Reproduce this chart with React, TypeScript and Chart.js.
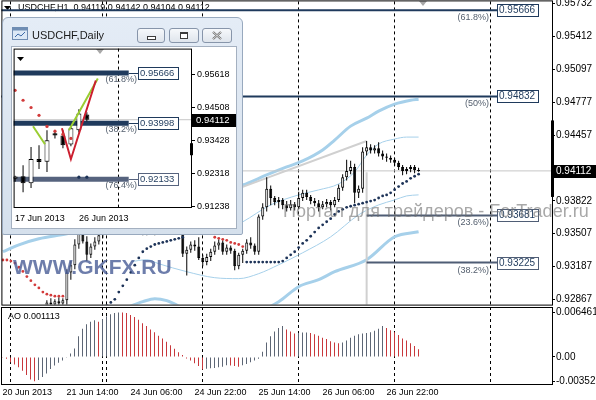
import React, { useEffect, useRef } from "react";
import { Chart, registerables } from "chart.js";

Chart.register(...registerables);

const FONT = "'Liberation Sans', Arial, sans-serif";

const symbolH1 = "USDCHF,H1";
const symbolDaily = "USDCHF,Daily";

// ---------- H1 candles (index 0 = 20 Jun 22:00) ----------
const barOpen = [
  0.9276, 0.9273, 0.927, 0.9268, 0.9272, 0.927, 0.9265, 0.9268, 0.9274, 0.9276,
  0.9273, 0.9277, 0.9284, 0.9282, 0.9285, 0.9283, 0.9286, 0.9313, 0.932, 0.934,
  0.9354, 0.9343, 0.933, 0.9338, 0.9343, 0.9349, 0.9358, 0.9366, 0.9372, 0.9368,
  0.9375, 0.9371, 0.9364, 0.9369, 0.9362, 0.9357, 0.9352, 0.9355, 0.9351, 0.9356,
  0.9352, 0.9355, 0.9353, 0.9357, 0.9352, 0.9354, 0.9331, 0.9335, 0.934, 0.9338,
  0.9327, 0.9323, 0.9328, 0.9333, 0.9339, 0.9342, 0.9333, 0.9337, 0.9334, 0.9319,
  0.933, 0.9334, 0.9342, 0.9339, 0.9333, 0.9367, 0.9376, 0.9394, 0.9385, 0.9381,
  0.9383, 0.9378, 0.9375, 0.9379, 0.9376, 0.9385, 0.939, 0.9386, 0.9382, 0.938,
  0.9376, 0.9379, 0.9381, 0.9378, 0.9383, 0.9395, 0.9405, 0.9411, 0.9415, 0.939,
  0.9394, 0.943, 0.9434, 0.9431, 0.9433, 0.9428, 0.9425, 0.9424, 0.9422, 0.9419,
  0.9415, 0.9411, 0.9413, 0.9415, 0.94119,
];
const barHigh = [
  0.928, 0.9278, 0.9275, 0.9276, 0.9279, 0.9274, 0.9271, 0.9277, 0.928, 0.9281,
  0.9279, 0.9286, 0.9288, 0.9287, 0.9289, 0.9288, 0.9316, 0.9324, 0.9345, 0.936,
  0.9372, 0.9348, 0.9341, 0.9347, 0.9354, 0.9362, 0.9371, 0.9379, 0.938, 0.9382,
  0.9381, 0.9374, 0.9373, 0.9372, 0.9366, 0.9361, 0.9358, 0.9359, 0.9357, 0.936,
  0.9357, 0.9361, 0.9358, 0.9362, 0.9356, 0.9357, 0.9338, 0.9343, 0.9344, 0.9347,
  0.933, 0.9331, 0.9336, 0.9343, 0.9345, 0.9344, 0.934, 0.9339, 0.9336, 0.9332,
  0.9336, 0.9345, 0.9347, 0.9341, 0.9369, 0.938, 0.9405, 0.9397, 0.9387, 0.9386,
  0.9385, 0.9382, 0.9383, 0.9381, 0.9391, 0.9393, 0.9393, 0.9388, 0.9385, 0.9383,
  0.9382, 0.9384, 0.9383, 0.9386, 0.9398, 0.9408, 0.9422, 0.9421, 0.9418, 0.9397,
  0.9434, 0.944, 0.9437, 0.9436, 0.9439, 0.9431, 0.9428, 0.9426, 0.9424, 0.9421,
  0.9417, 0.9415, 0.9417, 0.9417, 0.94142,
];
const barLow = [
  0.927, 0.9266, 0.9262, 0.9263, 0.9267, 0.9261, 0.9259, 0.9264, 0.9269, 0.927,
  0.9268, 0.9275, 0.9279, 0.9278, 0.928, 0.9279, 0.9281, 0.9306, 0.9316, 0.9336,
  0.9341, 0.9324, 0.9327, 0.9335, 0.934, 0.9346, 0.9354, 0.9362, 0.9363, 0.9365,
  0.9366, 0.936, 0.9359, 0.9357, 0.9352, 0.9349, 0.9349, 0.935, 0.9349, 0.935,
  0.935, 0.9351, 0.935, 0.9351, 0.935, 0.9328, 0.931, 0.9332, 0.9334, 0.9325,
  0.9319, 0.932, 0.9324, 0.933, 0.9335, 0.933, 0.933, 0.9331, 0.9315, 0.9316,
  0.9322, 0.9331, 0.9336, 0.933, 0.933, 0.9364, 0.9372, 0.9378, 0.9378, 0.9375,
  0.9374, 0.9372, 0.9373, 0.9373, 0.9374, 0.9382, 0.9383, 0.9379, 0.9377, 0.9372,
  0.9374, 0.9376, 0.9373, 0.9376, 0.9381, 0.9392, 0.9402, 0.9408, 0.938, 0.9385,
  0.939, 0.9426, 0.9428, 0.9428, 0.9425, 0.9422, 0.942, 0.9419, 0.9416, 0.9412,
  0.9407, 0.9408, 0.941, 0.9409, 0.94104,
];
const barClose = [
  0.9273, 0.927, 0.9268, 0.9272, 0.927, 0.9265, 0.9268, 0.9274, 0.9276, 0.9273,
  0.9277, 0.9284, 0.9282, 0.9285, 0.9283, 0.9286, 0.9313, 0.932, 0.934, 0.9354,
  0.9343, 0.933, 0.9338, 0.9343, 0.9349, 0.9358, 0.9366, 0.9372, 0.9368, 0.9375,
  0.9371, 0.9364, 0.9369, 0.9362, 0.9357, 0.9352, 0.9355, 0.9351, 0.9356, 0.9352,
  0.9355, 0.9353, 0.9357, 0.9352, 0.9354, 0.9331, 0.9335, 0.934, 0.9338, 0.9327,
  0.9323, 0.9328, 0.9333, 0.9339, 0.9342, 0.9333, 0.9337, 0.9334, 0.9319, 0.933,
  0.9334, 0.9342, 0.9339, 0.9333, 0.9367, 0.9376, 0.9394, 0.9385, 0.9381, 0.9383,
  0.9378, 0.9375, 0.9379, 0.9376, 0.9385, 0.939, 0.9386, 0.9382, 0.938, 0.9376,
  0.9379, 0.9381, 0.9378, 0.9383, 0.9395, 0.9405, 0.9411, 0.9415, 0.939, 0.9394,
  0.943, 0.9434, 0.9431, 0.9433, 0.9428, 0.9425, 0.9424, 0.9422, 0.9419, 0.9415,
  0.9411, 0.9413, 0.9415, 0.9412, 0.94112,
];
// Parabolic SAR (H1)
const sarH1 = [
  0.9325, 0.9325, 0.9324, 0.9322, 0.9318, 0.9314, 0.9309, 0.9305, 0.9301, 0.9298,
  0.9294, 0.9292, 0.9291, 0.929, 0.929, 0.929, 0.9259, 0.926, 0.9262, 0.9265,
  0.9268, 0.9271, 0.9273, 0.9275, 0.9277, 0.9279, 0.9281, 0.9284, 0.9287, 0.9294,
  0.93, 0.9306, 0.9313, 0.932, 0.9327, 0.9333, 0.9336, 0.9338, 0.934, 0.9341,
  0.9342, 0.9343, 0.9344, 0.9345, 0.9346, 0.9347, 0.9382, 0.9379, 0.9375, 0.937,
  0.9364, 0.9358, 0.9352, 0.9347, 0.9346, 0.9345, 0.9344, 0.9342, 0.9341, 0.934,
  0.9338, 0.9323, 0.9323, 0.9323, 0.9323, 0.9323, 0.9323, 0.9323, 0.9323, 0.9323,
  0.9324, 0.9327, 0.933, 0.9333, 0.9337, 0.9341, 0.9344, 0.9348, 0.9352, 0.9356,
  0.9359, 0.9362, 0.9365, 0.9369, 0.9372, 0.9374, 0.9376, 0.9377, 0.9378, 0.9379,
  0.938, 0.9381, 0.9382, 0.9383, 0.9385, 0.9387, 0.9388, 0.939, 0.9393, 0.9396,
  0.9399, 0.9401, 0.9404, 0.9406, 0.9408,
];
// Awesome Oscillator
const aoValues = [
  -0.0001, -0.00025, -0.00075, -0.0011, -0.0015, -0.002, -0.0026, -0.00325, -0.003529, -0.00334,
  -0.0029, -0.0024, -0.00175, -0.00125, -0.00085, -0.0005, -0.0001, 0.0005, 0.00125, 0.003,
  0.0041, 0.00474, 0.0051, 0.00534, 0.0051, 0.0055, 0.0059, 0.0062, 0.0064, 0.006461,
  0.00645, 0.0064, 0.0061, 0.0058, 0.0054, 0.0049, 0.0045, 0.004, 0.0036, 0.0031,
  0.0027, 0.0022, 0.0017, 0.0012, 0.0007, 0.0003, -0.0002, -0.0005, -0.0009, -0.0013,
  -0.0018, -0.0017, -0.00165, -0.0016, -0.0015, -0.0014, -0.0012, -0.00125, -0.0013, -0.0014,
  -0.0012, -0.001, -0.00075, -0.0005, -0.00025, 0.00075, 0.0021, 0.003, 0.0037, 0.0042,
  0.0045, 0.004, 0.0037, 0.0034, 0.0035, 0.00355, 0.00356, 0.0035, 0.0033, 0.0031,
  0.0028, 0.0026, 0.0023, 0.0021, 0.002, 0.0021, 0.0024, 0.0028, 0.0031, 0.0033,
  0.0034, 0.0035, 0.0036, 0.0038, 0.0041, 0.0045, 0.0042, 0.0039, 0.0036, 0.0032,
  0.0027, 0.0024, 0.002, 0.0016, 0.001113,
];

// envelope / band lines (bar index, price)
const bandUpThickIdx = [0, 4, 9, 16, 25, 35, 45, 52, 60, 66, 71, 75, 80, 83, 87, 91, 94, 98, 102, 104];
const bandUpThickVal = [0.9333, 0.93397, 0.93455, 0.93503, 0.9359, 0.93716, 0.93831, 0.93899, 0.93976, 0.94073, 0.9415, 0.94208, 0.94314, 0.9441, 0.94545, 0.94622, 0.9469, 0.94758, 0.94796, 0.94806];
const bandUpThinIdx = [55, 60, 67, 74, 79, 84, 88, 91, 94, 98, 101, 104];
const bandUpThinVal = [0.93523, 0.93619, 0.93783, 0.9388, 0.93928, 0.93986, 0.94102, 0.94265, 0.94372, 0.9442, 0.94439, 0.94439];
const bandLoThinIdx = [32, 36, 39, 46, 53, 59, 64, 69, 75, 82, 89, 94, 98, 101, 104];
const bandLoThinVal = [0.93233, 0.93253, 0.93214, 0.93137, 0.93079, 0.9307, 0.93118, 0.93204, 0.9332, 0.93474, 0.93687, 0.93783, 0.93831, 0.9387, 0.9388];
const bandLoThickIdx = [24, 31, 35, 38, 41, 47, 57, 64, 69, 74, 79, 83, 91, 98, 104];
const bandLoThickVal = [0.92674, 0.9279, 0.92847, 0.92876, 0.92857, 0.92751, 0.92693, 0.92751, 0.92847, 0.92992, 0.9306, 0.93137, 0.93253, 0.93475, 0.93523];

// Fibonacci tool
const fibLevels = [0.95666, 0.94832, 0.93681, 0.93225];
const fibNames = ["(61.8%)", "(50%)", "(23.6%)", "(38.2%)"];
const fibFromIdx = [-2, -2, 91, 91];
const fibToIdx = 123.625;
const fibTrendIdx = [60, 91];
const fibTrendVal = [0.93957, 0.94401];
const fibVertIdx = [91, 91];
const fibVertVal = [0.941, 0.927];

const priceTicks = [0.95732, 0.95412, 0.95097, 0.94777, 0.94457, 0.93822, 0.93507, 0.93187, 0.92867];
const dayRange = [0.9386, 0.946];
const separatorIdx = [2, 25, 26, 50, 74, 98, 122];
const dateIdx = [0, 16, 32, 48, 64, 80, 96];
const dateLabels = ["20 Jun 2013", "21 Jun 14:00", "24 Jun 06:00", "24 Jun 22:00", "25 Jun 14:00", "26 Jun 06:00", "26 Jun 22:00"];
const aoTicks = [0.006461, 0, -0.003529];
const aoTickLabels = ["0.006461", "0.00", "-0.003529"];

// ---------- Daily inset (index 0 = 17 Jun) ----------
const dOpen = [0.9215, 0.9223, 0.92, 0.928, 0.9271, 0.9366, 0.9359, 0.9329, 0.9376, 0.9429];
const dHigh = [0.9225, 0.926, 0.932, 0.9326, 0.9376, 0.9376, 0.9376, 0.9393, 0.9446, 0.9436];
const dLow = [0.9205, 0.917, 0.9184, 0.9247, 0.9237, 0.9349, 0.9316, 0.9323, 0.9369, 0.9406];
const dClose = [0.9222, 0.92, 0.928, 0.927, 0.9343, 0.9359, 0.9326, 0.9383, 0.9432, 0.94112];
const dSar = [0.9509, 0.9476, 0.9452, 0.9426, 0.9389, 0.9373, 0.9363, 0.9349, 0.922, 0.922];
const dTicks = [0.95618, 0.94508, 0.93428, 0.92318, 0.91238];
const dDateIdx = [0, 8];
const dDateLabels = ["17 Jun 2013", "26 Jun 2013"];
const dFibLevels = [0.95666, 0.93998, 0.92133];
const dFibNames = ["(61.8%)", "(38.2%)", "(76.4%)"];
const dFibToIdx = 14.25;
const zigRedX = [5.875, 7, 10.125];
const zigRedY = [0.93826, 0.92798, 0.95419];
const zigGreenX = [2.25, 3.75, 5, 6.75, 10.375];
const zigGreenY = [0.93893, 0.93295, null, 0.9376, 0.95485];
const dRange = [0.9293, 0.9333];
const dSeparatorIdx = 13;

// ---------- styles ----------
const NAVY = "#1d3358";
const RED = "#d23b3b";
const FIB_DARK = "#1f3a5c";
const FIB_SLATE = "#4f5d75";
const BAND = "#a6d0ea";
const AO_UP = "#5d6675";
const AO_DN = "#c8383c";

const X_MIN = -0.375;
const X_MAX = 137.375;
const Y_MIN = 0.928188;
const Y_MAX = 0.957513;
const AO_MIN = -0.00392;
const AO_MAX = 0.007259;
const D_XMIN = -0.1875;
const D_XMAX = 22.1875;
const D_YMIN = 0.91172;
const D_YMAX = 0.96481;

const pts = (xs: number[], ys: (number | null)[]) => xs.map((x, k) => ({ x, y: ys[k] }));

function lineDs(data: any[], color: string, width: number, order: number, extra: any = {}) {
  return {
    type: "line",
    data,
    borderColor: color,
    borderWidth: width,
    pointRadius: 0,
    pointHoverRadius: 0,
    fill: false,
    order,
    clip: 0,
    ...extra,
  };
}

function tri(ctx: CanvasRenderingContext2D, x: number, y: number, w: number, h: number, color: string) {
  ctx.fillStyle = color;
  ctx.beginPath();
  ctx.moveTo(x, y);
  ctx.lineTo(x + w, y);
  ctx.lineTo(x + w / 2, y + h);
  ctx.closePath();
  ctx.fill();
}

function dashedSeparators(chart: any, idxs: number[]) {
  const { ctx, chartArea: a } = chart;
  const xs = chart.scales.x;
  ctx.save();
  ctx.strokeStyle = "#000";
  ctx.lineWidth = 1;
  ctx.setLineDash([3, 3]);
  idxs.forEach((s) => {
    const px = Math.floor(xs.getPixelForValue(s)) + 0.5;
    ctx.beginPath();
    ctx.moveTo(px, a.top);
    ctx.lineTo(px, a.bottom);
    ctx.stroke();
  });
  ctx.restore();
}

const last = barClose.length - 1;

function makeMain(canvas: HTMLCanvasElement) {
  const deco = {
    id: "mainDeco",
    beforeDatasetsDraw(chart: any) {
      dashedSeparators(chart, separatorIdx);
      const { ctx } = chart;
      ctx.save();
      tri(ctx, 4, 6, 7, 4, "#000");
      ctx.fillStyle = "#000";
      ctx.font = `9px ${FONT}`;
      ctx.textBaseline = "middle";
      ctx.textAlign = "left";
      const title = `${symbolH1}  ${barOpen[last].toFixed(5)} ${barHigh[last].toFixed(5)} ${barLow[last].toFixed(5)} ${barClose[last].toFixed(5)}`;
      ctx.fillText(title, 18, 8);
      tri(ctx, 419, 1, 8, 5, "#a8a8a8");
      ctx.restore();
    },
    afterDatasetsDraw(chart: any) {
      const { ctx, chartArea: a } = chart;
      const ys = chart.scales.y;
      ctx.save();
      fibLevels.forEach((lv, k) => {
        const py = Math.round(ys.getPixelForValue(lv));
        const col = k < 2 ? FIB_DARK : FIB_SLATE;
        ctx.fillStyle = "#fff";
        ctx.fillRect(497, py - 6, 42, 13);
        ctx.strokeStyle = col;
        ctx.lineWidth = 1;
        ctx.strokeRect(497.5, py - 5.5, 41, 12);
        ctx.fillStyle = FIB_DARK;
        ctx.font = `10px ${FONT}`;
        ctx.textBaseline = "middle";
        ctx.textAlign = "left";
        ctx.fillText(lv.toFixed(5), 499, py + 0.5);
        ctx.fillStyle = "#55606f";
        ctx.font = `9px ${FONT}`;
        ctx.textAlign = "right";
        ctx.fillText(fibNames[k], 489, py + 8);
      });
      // frame
      ctx.strokeStyle = "#000";
      ctx.lineWidth = 1;
      ctx.strokeRect(a.left + 0.5, a.top - 0.5, a.right - a.left, a.bottom - a.top + 1);
      // day range bar
      const r0 = ys.getPixelForValue(dayRange[1]);
      const r1 = ys.getPixelForValue(dayRange[0]);
      ctx.fillStyle = "#000";
      ctx.fillRect(a.right - 1, r0, 3, r1 - r0);
      // current price label
      const py = Math.round(ys.getPixelForValue(barClose[last]));
      ctx.fillRect(a.right + 1, py - 6, 44, 13);
      ctx.fillStyle = "#fff";
      ctx.font = `10px ${FONT}`;
      ctx.textAlign = "left";
      ctx.textBaseline = "middle";
      ctx.fillText(barClose[last].toFixed(5), a.right + 4, py + 0.5);
      // watermarks
      ctx.font = `bold 21px ${FONT}`;
      ctx.textBaseline = "alphabetic";
      ctx.fillStyle = "rgba(72,92,150,0.8)";
      ctx.fillText("WWW.GKFX.RU", 13, 274);
      ctx.font = `18px ${FONT}`;
      ctx.fillStyle = "rgba(110,110,110,0.6)";
      ctx.fillText("Портал для трейдеров - ForTrader.ru", 283, 217);
      ctx.restore();
    },
  };

  const datasets: any[] = [
    {
      type: "line",
      data: sarH1.map((v, i) => ({ x: i, y: v })),
      showLine: false,
      pointRadius: 1.4,
      pointHoverRadius: 0,
      pointBorderWidth: 0,
      pointBackgroundColor: (c: any) => (sarH1[c.dataIndex] > barOpen[c.dataIndex] ? RED : NAVY),
      order: 1,
      clip: 0,
    },
    {
      type: "bar",
      data: barOpen.map((o, i) => ({ x: i, y: [o, barClose[i]] })),
      backgroundColor: (c: any) => (barClose[c.dataIndex] >= barOpen[c.dataIndex] ? "#fff" : "#000"),
      borderColor: "#000",
      borderWidth: 1,
      borderSkipped: false,
      barThickness: 3,
      minBarLength: 1,
      grouped: false,
      inflateAmount: 0,
      order: 2,
      clip: 0,
    },
    {
      type: "bar",
      data: barOpen.map((o, i) => ({ x: i, y: [barLow[i], barHigh[i]] })),
      backgroundColor: "#000",
      borderWidth: 0,
      barThickness: 1,
      grouped: false,
      inflateAmount: 0,
      order: 3,
      clip: 0,
    },
    ...fibLevels.map((lv, k) =>
      lineDs([{ x: fibFromIdx[k], y: lv }, { x: fibToIdx, y: lv }], k < 2 ? FIB_DARK : FIB_SLATE, 2, 4)
    ),
    lineDs(pts(fibTrendIdx, fibTrendVal), "#d0d0d0", 2, 5),
    lineDs(pts(fibVertIdx, fibVertVal), "#d0d0d0", 2, 5),
    lineDs([{ x: X_MIN, y: barClose[last] }, { x: X_MAX, y: barClose[last] }], "#c6c6c6", 1, 6),
    lineDs(pts(bandUpThickIdx, bandUpThickVal), BAND, 3, 7, { cubicInterpolationMode: "monotone" }),
    lineDs(pts(bandLoThickIdx, bandLoThickVal), BAND, 3, 7, { cubicInterpolationMode: "monotone" }),
    lineDs(pts(bandUpThinIdx, bandUpThinVal), BAND, 1, 7, { cubicInterpolationMode: "monotone" }),
    lineDs(pts(bandLoThinIdx, bandLoThinVal), BAND, 1, 7, { cubicInterpolationMode: "monotone" }),
  ];

  return new Chart(canvas, {
    type: "bar",
    data: { datasets },
    options: {
      responsive: false,
      animation: false,
      devicePixelRatio: 1,
      events: [],
      layout: { padding: { left: 1, top: 1, right: 0, bottom: 1 } },
      plugins: { legend: { display: false }, tooltip: { enabled: false } },
      scales: {
        x: { type: "linear", display: false, min: X_MIN, max: X_MAX, offset: false, bounds: "data" },
        y: {
          type: "linear",
          position: "right",
          min: Y_MIN,
          max: Y_MAX,
          bounds: "data",
          afterFit: (s: any) => {
            s.width = 44;
            s.paddingTop = 0;
            s.paddingBottom = 0;
          },
          afterBuildTicks: (s: any) => {
            s.ticks = priceTicks.map((v) => ({ value: v }));
          },
          ticks: {
            callback: (v: any) => Number(v).toFixed(5),
            font: { family: FONT, size: 10 },
            color: "#000",
            padding: 1,
            autoSkip: false,
          },
          grid: { drawOnChartArea: false, drawTicks: true, tickLength: 3, color: "#000" },
          border: { display: false },
        },
      },
    } as any,
    plugins: [deco],
  } as any);
}

function makeAO(canvas: HTMLCanvasElement) {
  const deco = {
    id: "aoDeco",
    beforeDatasetsDraw(chart: any) {
      dashedSeparators(chart, separatorIdx);
    },
    afterDatasetsDraw(chart: any) {
      const { ctx, chartArea: a } = chart;
      ctx.save();
      ctx.strokeStyle = "#000";
      ctx.lineWidth = 1;
      ctx.strokeRect(a.left + 0.5, a.top + 0.5, a.right - a.left, a.bottom - a.top);
      ctx.fillStyle = "#000";
      ctx.font = `9px ${FONT}`;
      ctx.textBaseline = "middle";
      ctx.textAlign = "left";
      ctx.fillText(`AO ${aoValues[aoValues.length - 1].toFixed(6)}`, 8, 11);
      ctx.restore();
    },
  };
  return new Chart(canvas, {
    type: "bar",
    data: {
      datasets: [
        {
          type: "bar",
          data: aoValues.map((v, i) => ({ x: i, y: v })),
          backgroundColor: (c: any) => {
            const i = c.dataIndex;
            return i > 0 && aoValues[i] > aoValues[i - 1] ? AO_UP : AO_DN;
          },
          borderWidth: 0,
          barThickness: 1,
          grouped: false,
          inflateAmount: 0,
          clip: 0,
        },
      ],
    },
    options: {
      responsive: false,
      animation: false,
      devicePixelRatio: 1,
      events: [],
      layout: { padding: { left: 1, top: 1, right: 0, bottom: 0 } },
      plugins: { legend: { display: false }, tooltip: { enabled: false } },
      scales: {
        x: {
          type: "linear",
          position: "bottom",
          min: X_MIN,
          max: X_MAX,
          offset: false,
          bounds: "data",
          afterFit: (s: any) => {
            s.height = 16;
            s.paddingLeft = 0;
            s.paddingRight = 0;
          },
          afterBuildTicks: (s: any) => {
            s.ticks = dateIdx.map((v) => ({ value: v }));
          },
          ticks: {
            callback: (_v: any, i: number) => dateLabels[i],
            align: "start",
            maxRotation: 0,
            minRotation: 0,
            autoSkip: false,
            padding: 3,
            font: { family: FONT, size: 9 },
            color: "#000",
          },
          grid: { display: false, drawTicks: false },
          border: { display: false },
        },
        y: {
          type: "linear",
          position: "right",
          min: AO_MIN,
          max: AO_MAX,
          bounds: "data",
          afterFit: (s: any) => {
            s.width = 44;
            s.paddingTop = 0;
            s.paddingBottom = 0;
          },
          afterBuildTicks: (s: any) => {
            s.ticks = aoTicks.map((v) => ({ value: v }));
          },
          ticks: {
            callback: (_v: any, i: number) => aoTickLabels[i],
            font: { family: FONT, size: 10 },
            color: "#000",
            padding: 1,
            autoSkip: false,
          },
          grid: { drawOnChartArea: false, drawTicks: true, tickLength: 3, color: "#000" },
          border: { display: false },
        },
      },
    } as any,
    plugins: [deco],
  } as any);
}

function makeInset(canvas: HTMLCanvasElement) {
  const dl = dClose.length - 1;
  const deco = {
    id: "insetDeco",
    beforeDatasetsDraw(chart: any) {
      dashedSeparators(chart, [dSeparatorIdx]);
      const { ctx } = chart;
      ctx.save();
      tri(ctx, 5, 10, 7, 4, "#000");
      tri(ctx, 84, 2, 8, 5, "#a8a8a8");
      ctx.restore();
    },
    afterDatasetsDraw(chart: any) {
      const { ctx, chartArea: a } = chart;
      const ys = chart.scales.y;
      const xs = chart.scales.x;
      ctx.save();
      const xEnd = xs.getPixelForValue(dFibToIdx);
      dFibLevels.forEach((lv, k) => {
        const py = Math.round(ys.getPixelForValue(lv));
        const col = k < 2 ? FIB_DARK : "#56637e";
        ctx.strokeStyle = col;
        ctx.lineWidth = 1;
        ctx.beginPath();
        ctx.moveTo(xEnd, py + 0.5);
        ctx.lineTo(126, py + 0.5);
        ctx.stroke();
        ctx.fillStyle = "#fff";
        ctx.fillRect(126, py - 6, 41, 13);
        ctx.strokeRect(126.5, py - 5.5, 40, 12);
        ctx.fillStyle = FIB_DARK;
        ctx.font = `9.5px ${FONT}`;
        ctx.textBaseline = "middle";
        ctx.textAlign = "left";
        ctx.fillText(lv.toFixed(5), 128, py + 0.5);
        ctx.fillStyle = "#55606f";
        ctx.font = `9px ${FONT}`;
        ctx.textAlign = "right";
        ctx.fillText(dFibNames[k], 125, py + 7);
      });
      ctx.strokeStyle = "#000";
      ctx.lineWidth = 1;
      ctx.strokeRect(a.left + 0.5, a.top + 0.5, a.right - a.left - 1, a.bottom - a.top - 1);
      const r0 = ys.getPixelForValue(dRange[1]);
      const r1 = ys.getPixelForValue(dRange[0]);
      ctx.fillStyle = "#000";
      ctx.fillRect(a.right - 2, r0, 3, r1 - r0);
      const py = Math.round(ys.getPixelForValue(dClose[dl]));
      ctx.fillRect(a.right, py - 6, 44, 13);
      ctx.fillStyle = "#fff";
      ctx.font = `9.5px ${FONT}`;
      ctx.textAlign = "left";
      ctx.textBaseline = "middle";
      ctx.fillText(dClose[dl].toFixed(5), a.right + 4, py + 0.5);
      ctx.restore();
    },
  };
  const datasets: any[] = [
    {
      type: "line",
      data: dSar.map((v, i) => ({ x: i, y: v })),
      showLine: false,
      pointRadius: 1.6,
      pointHoverRadius: 0,
      pointBorderWidth: 0,
      pointBackgroundColor: (c: any) => (dSar[c.dataIndex] > dOpen[c.dataIndex] ? RED : NAVY),
      order: 1,
      clip: 0,
    },
    lineDs(pts(zigRedX, zigRedY), "#cc1f2f", 2, 2),
    lineDs(pts(zigGreenX, zigGreenY), "#9acd32", 2, 2, { spanGaps: false }),
    {
      type: "bar",
      data: dOpen.map((o, i) => ({ x: i, y: [o, dClose[i]] })),
      backgroundColor: (c: any) => (dClose[c.dataIndex] >= dOpen[c.dataIndex] ? "#fff" : "#000"),
      borderColor: "#000",
      borderWidth: 1,
      borderSkipped: false,
      barThickness: 5,
      minBarLength: 1,
      grouped: false,
      inflateAmount: 0,
      order: 3,
      clip: 0,
    },
    {
      type: "bar",
      data: dOpen.map((o, i) => ({ x: i, y: [dLow[i], dHigh[i]] })),
      backgroundColor: "#000",
      borderWidth: 0,
      barThickness: 1,
      grouped: false,
      inflateAmount: 0,
      order: 4,
      clip: 0,
    },
    ...dFibLevels.map((lv, k) =>
      lineDs([{ x: D_XMIN - 1, y: lv }, { x: dFibToIdx, y: lv }], k < 2 ? FIB_DARK : "#56637e", 5, 5)
    ),
    lineDs([{ x: D_XMIN, y: dClose[dl] }, { x: D_XMAX, y: dClose[dl] }], "#c6c6c6", 1, 6),
  ];
  return new Chart(canvas, {
    type: "bar",
    data: { datasets },
    options: {
      responsive: false,
      animation: false,
      devicePixelRatio: 1,
      events: [],
      layout: { padding: { left: 1, top: 1, right: 0, bottom: 0 } },
      plugins: { legend: { display: false }, tooltip: { enabled: false } },
      scales: {
        x: {
          type: "linear",
          position: "bottom",
          min: D_XMIN,
          max: D_XMAX,
          offset: false,
          bounds: "data",
          afterFit: (s: any) => {
            s.height = 20;
            s.paddingLeft = 0;
            s.paddingRight = 0;
          },
          afterBuildTicks: (s: any) => {
            s.ticks = dDateIdx.map((v) => ({ value: v }));
          },
          ticks: {
            callback: (_v: any, i: number) => dDateLabels[i],
            align: "start",
            maxRotation: 0,
            minRotation: 0,
            autoSkip: false,
            padding: 5,
            font: { family: FONT, size: 9 },
            color: "#000",
          },
          grid: { display: false, drawTicks: false },
          border: { display: false },
        },
        y: {
          type: "linear",
          position: "right",
          min: D_YMIN,
          max: D_YMAX,
          bounds: "data",
          afterFit: (s: any) => {
            s.width = 44;
            s.paddingTop = 0;
            s.paddingBottom = 0;
          },
          afterBuildTicks: (s: any) => {
            s.ticks = dTicks.map((v) => ({ value: v }));
          },
          ticks: {
            callback: (v: any) => Number(v).toFixed(5),
            font: { family: FONT, size: 9 },
            color: "#000",
            padding: 2,
            autoSkip: false,
          },
          grid: { drawOnChartArea: false, drawTicks: true, tickLength: 3, color: "#000" },
          border: { display: false },
        },
      },
    } as any,
    plugins: [deco],
  } as any);
}

const btnStyle: React.CSSProperties = {
  position: "absolute",
  top: 10,
  height: 15,
  boxSizing: "border-box",
  border: "1px solid #8795aa",
  borderRadius: 3,
  background: "linear-gradient(#f6f8fb, #dfe5ec)",
};

export default function App() {
  const mainRef = useRef<HTMLCanvasElement>(null);
  const aoRef = useRef<HTMLCanvasElement>(null);
  const insetRef = useRef<HTMLCanvasElement>(null);

  useEffect(() => {
    document.body.style.margin = "0";
    const charts = [
      makeMain(mainRef.current as HTMLCanvasElement),
      makeAO(aoRef.current as HTMLCanvasElement),
      makeInset(insetRef.current as HTMLCanvasElement),
    ];
    return () => charts.forEach((c) => c.destroy());
  }, []);

  return (
    <div style={{ position: "fixed", left: 0, top: 0, width: 596, height: 400, background: "#fff", overflow: "hidden" }}>
      <canvas ref={mainRef} width={596} height={306} style={{ position: "absolute", left: 0, top: 0, width: 596, height: 306 }} />
      <canvas ref={aoRef} width={596} height={94} style={{ position: "absolute", left: 0, top: 306, width: 596, height: 94 }} />
      <div
        style={{
          position: "absolute",
          left: 2,
          top: 17,
          width: 241,
          height: 218,
          boxSizing: "border-box",
          border: "1px solid #98a9be",
          borderRadius: "6px 6px 2px 2px",
          background: "linear-gradient(#e4ecf6, #d5e0ec)",
        }}
      >
        <svg width={16} height={13} style={{ position: "absolute", left: 9, top: 9 }}>
          <rect x={0.5} y={0.5} width={15} height={12} fill="#dbe8f6" stroke="#6f8db3" />
          <rect x={0.5} y={0.5} width={15} height={3} fill="#6f8db3" />
          <polyline points="3,10 6,7 9,9 13,5" fill="none" stroke="#3d6aa8" strokeWidth={1} />
        </svg>
        <div
          style={{
            position: "absolute",
            left: 29,
            top: 11,
            font: `11px ${FONT}`,
            lineHeight: "13px",
            color: "#1b1b1b",
            whiteSpace: "nowrap",
          }}
        >
          {symbolDaily}
        </div>
        <div style={{ ...btnStyle, left: 134, width: 28 }}>
          <svg width={26} height={13} style={{ position: "absolute", left: 0, top: 0 }}>
            <rect x={9.5} y={7.5} width={8} height={3} fill="#fff" stroke="#3c3c3c" />
          </svg>
        </div>
        <div style={{ ...btnStyle, left: 166, width: 30 }}>
          <svg width={28} height={13} style={{ position: "absolute", left: 0, top: 0 }}>
            <rect x={10.5} y={3.5} width={7} height={6} fill="#fff" stroke="#3c3c3c" />
            <rect x={10.5} y={3.5} width={7} height={1.5} fill="#3c3c3c" />
          </svg>
        </div>
        <div style={{ ...btnStyle, left: 199, width: 30 }}>
          <svg width={28} height={13} style={{ position: "absolute", left: 0, top: 0 }}>
            <path d="M10 3 L18 10 M18 3 L10 10" stroke="#6b6b6b" strokeWidth={2.2} />
            <path d="M10 3 L18 10 M18 3 L10 10" stroke="#f4f4f4" strokeWidth={0.8} />
          </svg>
        </div>
        <div
          style={{
            position: "absolute",
            left: 8,
            top: 28,
            width: 226,
            height: 183,
            boxSizing: "border-box",
            border: "1px solid #a4b0c0",
            background: "#fff",
          }}
        >
          <canvas ref={insetRef} width={224} height={181} style={{ display: "block", width: 224, height: 181 }} />
        </div>
      </div>
    </div>
  );
}
